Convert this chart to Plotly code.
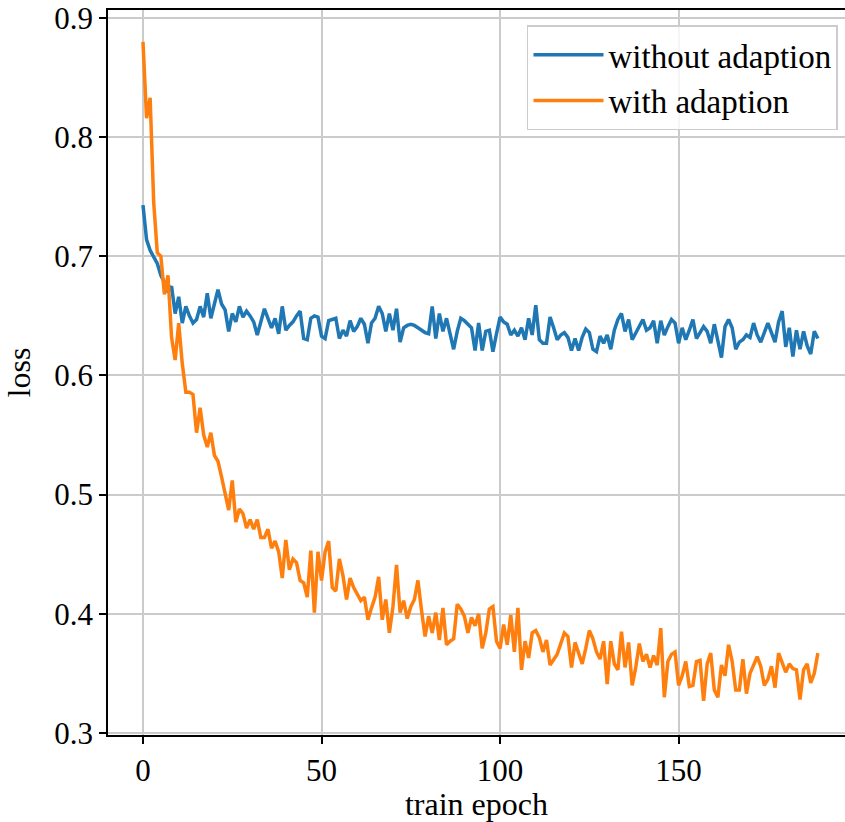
import plotly.graph_objects as go

epochs = list(range(190))

without_adaption = [
    0.743, 0.714, 0.705, 0.700, 0.694, 0.684, 0.678, 0.670, 0.675, 0.652,
    0.666, 0.644, 0.658, 0.650, 0.644, 0.647, 0.658, 0.649, 0.669, 0.648,
    0.660, 0.672, 0.660, 0.655, 0.637, 0.652, 0.645, 0.658, 0.649, 0.654,
    0.650, 0.645, 0.634, 0.646, 0.656, 0.648, 0.640, 0.648, 0.635, 0.658,
    0.638, 0.642, 0.645, 0.650, 0.654, 0.631, 0.630, 0.648, 0.650, 0.649,
    0.633, 0.631, 0.646, 0.647, 0.648, 0.631, 0.638, 0.633, 0.646, 0.637,
    0.641, 0.648, 0.643, 0.627, 0.644, 0.648, 0.658, 0.652, 0.637, 0.652,
    0.638, 0.656, 0.628, 0.640, 0.642, 0.643, 0.642, 0.640, 0.638, 0.636,
    0.635, 0.658, 0.631, 0.652, 0.637, 0.648, 0.635, 0.622, 0.637, 0.648,
    0.646, 0.643, 0.640, 0.621, 0.644, 0.621, 0.637, 0.638, 0.620, 0.635,
    0.649, 0.645, 0.643, 0.634, 0.638, 0.633, 0.640, 0.630, 0.648, 0.634,
    0.659, 0.630, 0.627, 0.627, 0.649, 0.640, 0.630, 0.634, 0.636, 0.632,
    0.621, 0.631, 0.621, 0.632, 0.639, 0.636, 0.622, 0.620, 0.633, 0.627,
    0.634, 0.622, 0.638, 0.647, 0.652, 0.637, 0.647, 0.630, 0.636, 0.642,
    0.647, 0.638, 0.640, 0.646, 0.627, 0.646, 0.634, 0.641, 0.647, 0.644,
    0.627, 0.640, 0.630, 0.638, 0.647, 0.631, 0.636, 0.641, 0.637, 0.627,
    0.643, 0.628, 0.615, 0.641, 0.647, 0.640, 0.622, 0.628, 0.630, 0.634,
    0.632, 0.644, 0.634, 0.628, 0.637, 0.644, 0.636, 0.628, 0.645, 0.654,
    0.624, 0.640, 0.616, 0.638, 0.622, 0.637, 0.625, 0.618, 0.637, 0.631,
]

with_adaption = [
    0.880, 0.816, 0.833, 0.745, 0.703, 0.700, 0.668, 0.684, 0.632, 0.613,
    0.644, 0.610, 0.586, 0.586, 0.584, 0.552, 0.573, 0.550, 0.540, 0.552,
    0.533, 0.528, 0.515, 0.500, 0.487, 0.512, 0.477, 0.488, 0.484, 0.472,
    0.479, 0.471, 0.479, 0.464, 0.464, 0.471, 0.455, 0.461, 0.452, 0.430,
    0.462, 0.437, 0.446, 0.443, 0.428, 0.426, 0.414, 0.453, 0.401, 0.452,
    0.428, 0.452, 0.461, 0.422, 0.419, 0.446, 0.432, 0.412, 0.430, 0.422,
    0.417, 0.411, 0.414, 0.395, 0.405, 0.414, 0.431, 0.395, 0.412, 0.384,
    0.406, 0.441, 0.401, 0.411, 0.396, 0.406, 0.412, 0.428, 0.403, 0.381,
    0.398, 0.384, 0.401, 0.378, 0.405, 0.374, 0.377, 0.379, 0.408, 0.404,
    0.398, 0.384, 0.397, 0.390, 0.400, 0.371, 0.384, 0.404, 0.406, 0.377,
    0.371, 0.391, 0.374, 0.399, 0.368, 0.405, 0.353, 0.377, 0.363, 0.384,
    0.386, 0.380, 0.368, 0.378, 0.357, 0.361, 0.366, 0.375, 0.384, 0.381,
    0.355, 0.376, 0.368, 0.358, 0.371, 0.386, 0.379, 0.368, 0.362, 0.377,
    0.341, 0.377, 0.358, 0.353, 0.385, 0.355, 0.376, 0.340, 0.355, 0.375,
    0.360, 0.366, 0.355, 0.365, 0.357, 0.388, 0.330, 0.360, 0.366, 0.368,
    0.340, 0.348, 0.360, 0.339, 0.340, 0.360, 0.361, 0.327, 0.358, 0.367,
    0.336, 0.330, 0.357, 0.348, 0.374, 0.360, 0.336, 0.336, 0.362, 0.333,
    0.350, 0.357, 0.364, 0.356, 0.340, 0.345, 0.356, 0.338, 0.367, 0.359,
    0.351, 0.358, 0.354, 0.353, 0.328, 0.353, 0.358, 0.342, 0.350, 0.367,
]

x_ticks = [0, 50, 100, 150]
y_ticks = [0.3, 0.4, 0.5, 0.6, 0.7, 0.8, 0.9]
y_tick_labels = ["0.3", "0.4", "0.5", "0.6", "0.7", "0.8", "0.9"]

FONT = "Liberation Serif"

fig = go.Figure()
fig.add_trace(go.Scatter(x=epochs, y=without_adaption, mode="lines",
                         name="without adaption",
                         line=dict(color="#1f77b4", width=3.5)))
fig.add_trace(go.Scatter(x=epochs, y=with_adaption, mode="lines",
                         name="with adaption",
                         line=dict(color="#ff7f0e", width=3.5)))

fig.update_layout(
    width=845, height=822,
    margin=dict(l=108, r=0, t=10, b=87),
    paper_bgcolor="white", plot_bgcolor="white",
    font=dict(family=FONT, size=31, color="black"),
    showlegend=True,
    legend=dict(x=0.9905, y=0.979, xanchor="right", yanchor="top",
                bgcolor="rgba(255,255,255,0.8)", bordercolor="#cccccc",
                borderwidth=1.5, font=dict(family=FONT, size=33),
                itemwidth=70, tracegroupgap=0),
)
fig.update_xaxes(
    range=[-9.8, 196.6], tickvals=x_ticks,
    showgrid=True, gridcolor="#cbcbcb", gridwidth=1.5,
    showline=True, linecolor="black", linewidth=1.5, mirror=True,
    ticks="outside", ticklen=7, tickwidth=1.5, tickcolor="black",
    zeroline=False,
    title=dict(text="train epoch", standoff=4, font=dict(family=FONT, size=32)),
)
fig.update_yaxes(
    range=[0.2983, 0.9067], tickvals=y_ticks, ticktext=y_tick_labels,
    showgrid=True, gridcolor="#cbcbcb", gridwidth=1.5,
    showline=True, linecolor="black", linewidth=1.5,
    ticks="outside", ticklen=7, tickwidth=1.5, tickcolor="black",
    zeroline=False,
    title=dict(text="loss", standoff=14, font=dict(family=FONT, size=32)),
)

fig.write_html("out.html")
